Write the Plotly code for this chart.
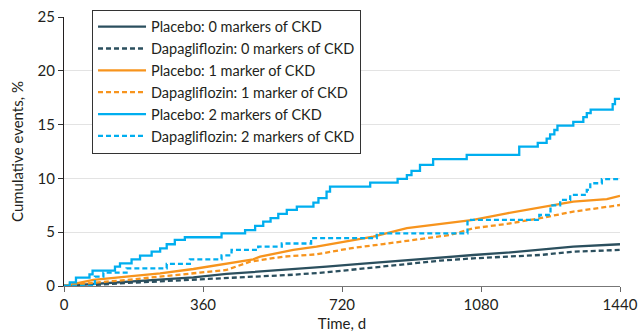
import plotly.graph_objects as go

# Placebo: 2 markers of CKD (step curve)
p2_days = [0, 15, 31, 66, 74, 132, 145, 175, 197, 227, 249, 266, 287, 313, 408, 469, 495, 516, 535, 555, 577, 603, 646, 659, 680, 689,
           793, 864, 888, 900, 922, 956, 1043, 1179, 1227, 1250, 1259, 1270, 1278, 1319, 1345, 1354, 1364, 1421, 1427, 1440]
p2_vals = [0, 0.34, 0.77, 1.08, 1.43, 1.80, 2.11, 2.48, 2.82, 3.19, 3.50, 3.88, 4.28, 4.53, 4.90, 5.20, 5.58, 5.98, 6.30, 6.70, 7.07, 7.38, 7.75, 8.16, 8.78, 9.24,
           9.60, 9.95, 10.30, 10.70, 11.26, 11.80, 12.19, 12.96, 13.30, 13.70, 14.10, 14.50, 14.90, 15.26, 15.70, 16.06, 16.40, 16.90, 17.40, 17.40]

# Dapagliflozin: 2 markers of CKD (step curve)
d2_days = [0, 80, 102, 162, 266, 326, 408, 434, 503, 564, 640, 810, 1045, 1231, 1260, 1285, 1311, 1354, 1363, 1393, 1440]
d2_vals = [0, 0.87, 1.24, 1.64, 2.05, 2.48, 2.85, 3.35, 3.66, 3.95, 4.45, 4.90, 6.14, 6.60, 7.50, 8.00, 8.47, 8.93, 9.55, 9.93, 9.93]

# Placebo: 1 marker of CKD
p1_days = [0, 76, 162, 249, 335, 404, 490, 508, 594, 654, 715, 801, 888, 974, 1060, 1147, 1233, 1319, 1406, 1440]
p1_vals = [0, 0.56, 0.87, 1.18, 1.58, 1.95, 2.48, 2.73, 3.35, 3.66, 4.05, 4.59, 5.37, 5.77, 6.14, 6.76, 7.32, 7.84, 8.07, 8.37]

# Dapagliflozin: 1 marker of CKD
d1_days = [0, 76, 162, 249, 335, 421, 482, 568, 654, 741, 827, 913, 1000, 1060, 1147, 1233, 1319, 1440]
d1_vals = [0, 0.30, 0.56, 0.87, 1.12, 1.49, 2.26, 2.73, 2.94, 3.50, 3.90, 4.34, 4.74, 5.37, 5.77, 6.30, 6.91, 7.53]

# Placebo: 0 markers of CKD
p0_days = [0, 76, 162, 249, 335, 421, 508, 594, 680, 767, 888, 974, 1060, 1147, 1233, 1319, 1440]
p0_vals = [0, 0.19, 0.40, 0.59, 0.80, 1.12, 1.33, 1.55, 1.80, 2.05, 2.42, 2.67, 2.88, 3.10, 3.41, 3.66, 3.88]

# Dapagliflozin: 0 markers of CKD
d0_days = [0, 76, 162, 249, 335, 421, 508, 594, 680, 767, 888, 974, 1060, 1147, 1233, 1319, 1440]
d0_vals = [0, 0.09, 0.28, 0.43, 0.59, 0.74, 0.90, 1.05, 1.27, 1.58, 2.05, 2.36, 2.57, 2.73, 2.88, 3.19, 3.35]

x_ticks = [0, 360, 720, 1080, 1440]
y_ticks = [0, 5, 10, 15, 20, 25]

DARK = "#2b4f5e"
ORANGE = "#f7941d"
BLUE = "#00aeef"

series = [
    ("Placebo: 0 markers of CKD", p0_days, p0_vals, DARK, "solid", "linear"),
    ("Dapagliflozin: 0 markers of CKD", d0_days, d0_vals, DARK, "5px,3px", "linear"),
    ("Placebo: 1 marker of CKD", p1_days, p1_vals, ORANGE, "solid", "linear"),
    ("Dapagliflozin: 1 marker of CKD", d1_days, d1_vals, ORANGE, "5px,3px", "linear"),
    ("Placebo: 2 markers of CKD", p2_days, p2_vals, BLUE, "solid", "hv"),
    ("Dapagliflozin: 2 markers of CKD", d2_days, d2_vals, BLUE, "5px,3px", "hv"),
]

fig = go.Figure()
for name, xs, ys, col, dash, shape in series:
    fig.add_trace(go.Scatter(x=xs, y=ys, mode="lines", name=name,
                             line=dict(color=col, width=2.3, dash=dash, shape=shape)))

FONT = "Lato"
fig.update_layout(
    width=639, height=334,
    margin=dict(l=64, r=19, t=17, b=48, autoexpand=False),
    paper_bgcolor="white", plot_bgcolor="white",
    font=dict(family=FONT, size=15, color="#231f20"),
    showlegend=True,
    legend=dict(x=0.0504, y=1.027, xanchor="left", yanchor="top",
                bgcolor="white", bordercolor="#333333", borderwidth=1,
                font=dict(family=FONT, size=14.5, color="#231f20"),
                tracegroupgap=0, itemwidth=48),
    xaxis=dict(range=[0, 1440], tickvals=x_ticks, ticks="outside", ticklen=5,
               tickcolor="#666666", showline=True, linecolor="#777777", linewidth=1,
               showgrid=False, zeroline=False, automargin=False,
               title=dict(text="Time, d", standoff=6, font=dict(size=15)),
               tickfont=dict(size=15)),
    yaxis=dict(range=[0, 25], tickvals=y_ticks, ticks="outside", ticklen=5,
               tickcolor="#333333", showline=True, linecolor="#231f20", linewidth=1,
               showgrid=True, gridcolor="#e3e3e3", gridwidth=1, zeroline=False, automargin=False,
               title=dict(text="Cumulative events, %", standoff=10, font=dict(size=15)),
               tickfont=dict(size=15)),
)

fig.write_html("out.html", config={"displayModeBar": False},
               post_script="document.body.style.margin='0';document.body.style.overflow='hidden';")
